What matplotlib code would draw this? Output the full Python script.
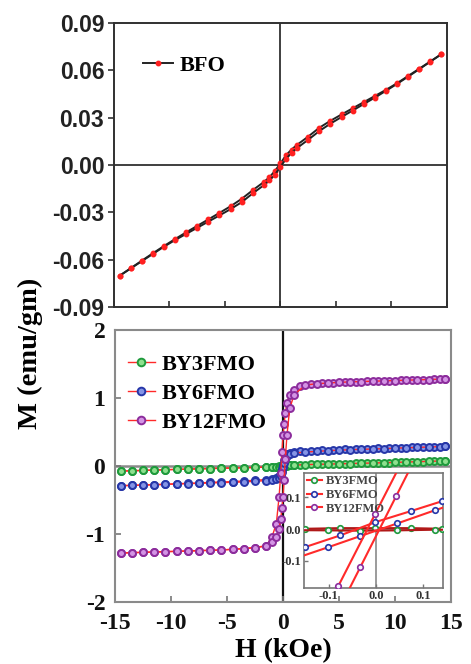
import matplotlib
matplotlib.use('Agg')
import matplotlib.pyplot as plt
from matplotlib.lines import Line2D

# ---- BFO (top panel) ----
H_bfo_down = [14.5, 13.5, 12.5, 11.5, 10.5, 9.5, 8.5, 7.5, 6.5, 5.5, 4.5, 3.5, 2.5, 1.5, 1.0, 0.5, 0.0,
              -0.5, -1.0, -1.5, -2.5, -3.5, -4.5, -5.5, -6.5, -7.5, -8.5, -9.5, -10.5, -11.5, -12.5, -13.5, -14.5]
M_bfo_down = [0.0702, 0.0656, 0.0610, 0.0564, 0.0518, 0.0476, 0.0437, 0.0398, 0.0359, 0.0320, 0.0280, 0.0236,
              0.0180, 0.0128, 0.0098, 0.0062, 0.0010, -0.0038, -0.0078, -0.0108, -0.0160, -0.0215, -0.0262,
              -0.0304, -0.0345, -0.0386, -0.0427, -0.0470, -0.0514, -0.0560, -0.0607, -0.0655, -0.0703]
H_bfo_up = [-14.5, -13.5, -12.5, -11.5, -10.5, -9.5, -8.5, -7.5, -6.5, -5.5, -4.5, -3.5, -2.5, -1.5, -1.0, -0.5, 0.0,
            0.5, 1.0, 1.5, 2.5, 3.5, 4.5, 5.5, 6.5, 7.5, 8.5, 9.5, 10.5, 11.5, 12.5, 13.5, 14.5]
M_bfo_up = [-0.0702, -0.0656, -0.0610, -0.0564, -0.0518, -0.0476, -0.0437, -0.0398, -0.0359, -0.0320, -0.0280,
            -0.0236, -0.0180, -0.0128, -0.0098, -0.0062, -0.0010, 0.0038, 0.0078, 0.0108, 0.0160, 0.0215, 0.0262,
            0.0304, 0.0345, 0.0386, 0.0427, 0.0470, 0.0514, 0.0560, 0.0607, 0.0655, 0.0703]

# ---- doped samples (bottom panel) ----
H_down = [14.5, 13.5, 12.5, 11.5, 10.5, 9.5, 8.5, 7.5, 6.5, 5.5, 4.5, 3.5, 2.5, 1.5,
          1.0, 0.6, 0.35, 0.2, 0.1, 0.0, -0.1, -0.2, -0.35, -0.6, -1.0,
          -1.5, -2.5, -3.5, -4.5, -5.5, -6.5, -7.5, -8.5, -9.5, -10.5, -11.5, -12.5, -13.5, -14.5]
H_up = [-14.5, -13.5, -12.5, -11.5, -10.5, -9.5, -8.5, -7.5, -6.5, -5.5, -4.5, -3.5, -2.5, -1.5,
        -1.0, -0.6, -0.35, -0.2, -0.1, 0.0, 0.1, 0.2, 0.35, 0.6, 1.0,
        2.0, 3.0, 4.0, 5.0, 6.0, 7.0, 8.0, 9.0, 10.0, 11.0, 12.0, 13.0, 14.0, 14.5]

by3_down = [0.075, 0.07, 0.065, 0.06, 0.055, 0.05, 0.046, 0.042, 0.038, 0.034, 0.03, 0.026, 0.022, 0.018,
            0.015, 0.012, 0.009, 0.007, 0.005, 0.002, -0.001, -0.003, -0.006, -0.009, -0.013,
            -0.017, -0.021, -0.025, -0.029, -0.033, -0.037, -0.041, -0.045, -0.05, -0.055, -0.06, -0.065, -0.07, -0.075]
by3_up = [-0.075, -0.07, -0.065, -0.06, -0.055, -0.05, -0.046, -0.042, -0.038, -0.034, -0.03, -0.026, -0.022, -0.018,
          -0.015, -0.012, -0.009, -0.007, -0.005, -0.002, 0.001, 0.003, 0.006, 0.009, 0.013,
          0.02, 0.024, 0.028, 0.032, 0.036, 0.04, 0.044, 0.048, 0.053, 0.058, 0.063, 0.068, 0.073, 0.075]

by6_down = [0.29, 0.285, 0.28, 0.275, 0.27, 0.265, 0.26, 0.255, 0.25, 0.245, 0.24, 0.235, 0.225, 0.215,
            0.205, 0.19, 0.17, 0.14, 0.09, 0.02, -0.05, -0.1, -0.14, -0.17, -0.19,
            -0.2, -0.21, -0.22, -0.23, -0.235, -0.24, -0.25, -0.255, -0.26, -0.27, -0.275, -0.28, -0.285, -0.29]
by6_up = [-0.29, -0.285, -0.28, -0.275, -0.27, -0.265, -0.26, -0.255, -0.25, -0.245, -0.24, -0.235, -0.225, -0.215,
          -0.205, -0.19, -0.17, -0.14, -0.09, -0.02, 0.05, 0.1, 0.14, 0.17, 0.19,
          0.205, 0.215, 0.225, 0.232, 0.24, 0.245, 0.25, 0.255, 0.262, 0.268, 0.273, 0.279, 0.285, 0.29]

by12_down = [1.28, 1.275, 1.27, 1.265, 1.26, 1.255, 1.25, 1.245, 1.24, 1.235, 1.225, 1.215, 1.20, 1.18,
             1.12, 1.05, 0.92, 0.78, 0.62, 0.45, 0.2, -0.1, -0.45, -0.85, -1.05,
             -1.17, -1.2, -1.215, -1.225, -1.235, -1.24, -1.245, -1.25, -1.255, -1.26, -1.265, -1.27, -1.275, -1.28]
by12_up = [-1.28, -1.275, -1.27, -1.265, -1.26, -1.255, -1.25, -1.245, -1.24, -1.235, -1.225, -1.215, -1.20, -1.18,
           -1.12, -1.05, -0.92, -0.78, -0.62, -0.45, -0.2, 0.1, 0.45, 0.85, 1.05,
           1.19, 1.21, 1.22, 1.23, 1.237, 1.242, 1.247, 1.252, 1.257, 1.262, 1.267, 1.272, 1.277, 1.28]

# ---- inset (low field) ----
Hin_a = [0.3, 0.141, 0.075, -0.001, -0.076, -0.151, -0.3]
Hin_b = [-0.3, -0.101, -0.033, 0.046, 0.125, 0.3]
by3_in_a = [0.001, 0.001, 0.003, 0.003, 0.003, 0.001, 0.001]
by3_in_b = [-0.002, -0.004, -0.005, -0.004, -0.002, -0.002]
by6_in_a = [0.167, 0.088, 0.057, 0.022, -0.02, -0.057, -0.131]
by6_in_b = [-0.157, -0.057, -0.022, 0.018, 0.059, 0.143]
Hin12_a = [0.3, -0.001, -0.08, -0.3]
by12_in_a = [0.92, 0.049, -0.18, -0.82]
Hin12_b = [-0.3, -0.033, 0.044, 0.3]
by12_in_b = [-0.902, -0.12, 0.106, 0.856]

samples = ['BY3FMO', 'BY6FMO', 'BY12FMO']
edge_cols = ['#1f9a3c', '#2636a8', '#8c2c9c']
face_cols = ['#8ee08e', '#8494e6', '#d394e4']

top_yticks = [0.09, 0.06, 0.03, 0.0, -0.03, -0.06, -0.09]
top_ylabels = ['0.09', '0.06', '0.03', '0.00', '-0.03', '-0.06', '-0.09']
x_ticks = [-15, -10, -5, 0, 5, 10, 15]
x_labels = ['-15', '-10', '-5', '0', '5', '10', '15']
bot_yticks = [-2, -1, 0, 1, 2]
bot_ylabels = ['-2', '-1', '0', '1', '2']
in_ticks = [-0.1, 0.0, 0.1]
in_labels = ['-0.1', '0.0', '0.1']

serif = 'Liberation Serif'
sans = 'Liberation Sans'
red = '#ff2a2a'

fig = plt.figure(figsize=(4.71, 6.64), dpi=100)

# top panel
ax1 = fig.add_axes([0.242, 0.5377, 0.707, 0.4277])
ax1.axhline(0, color='#303030', lw=1.3, zorder=1)
ax1.axvline(0, color='#303030', lw=1.3, zorder=1)
ax1.plot(H_bfo_down, M_bfo_down, '-', color='#222222', lw=1.4, marker='o', ms=3.2, mfc='#ff2020', mec='#ff2020', zorder=3)
ax1.plot(H_bfo_up, M_bfo_up, '-', color='#222222', lw=1.4, marker='o', ms=3.2, mfc='#ff2020', mec='#ff2020', zorder=3)
ax1.set_xlim(-15, 15)
ax1.set_ylim(-0.09, 0.09)
ax1.set_xticks(x_ticks)
ax1.set_xticklabels([])
ax1.set_yticks(top_yticks)
ax1.set_yticklabels(top_ylabels, fontfamily=sans, fontweight='bold', fontsize=16.5)
ax1.tick_params(axis='y', direction='out', length=4, width=1.2, pad=3, colors='#303030', labelcolor='#222222')
ax1.tick_params(axis='x', direction='in', length=4, width=1.2, colors='#303030')
for s in ax1.spines.values():
    s.set_color('#303030')
    s.set_linewidth(1.4)
h_bfo = Line2D([], [], color='#222222', lw=1.4, marker='o', ms=3.2, mfc='#ff2020', mec='#ff2020')
ax1.legend([h_bfo], ['BFO'], loc='center left', bbox_to_anchor=(0.087, 0.849), frameon=False,
           borderaxespad=0, borderpad=0, handlelength=1.35, handletextpad=0.3,
           prop={'family': serif, 'weight': 'bold', 'size': 16})

# bottom panel
ax2 = fig.add_axes([0.2442, 0.0934, 0.7134, 0.4096])
ax2.axhline(0, color='#8a8a8a', lw=1.8, zorder=1)
ax2.axvline(0, color='#111111', lw=1.6, zorder=1)
curves = [(by3_down, by3_up), (by6_down, by6_up), (by12_down, by12_up)]
handles = []
for (d, u), ec, fc in zip(curves, edge_cols, face_cols):
    for hh, mm in ((H_down, d), (H_up, u)):
        ax2.plot(hh, mm, '-', color=red, lw=1.0, marker='o', ms=5, mfc=fc, mec=ec, mew=1.4, zorder=3)
    handles.append(Line2D([], [], color=red, lw=1.0, marker='o', ms=5.5, mfc=fc, mec=ec, mew=1.4))
ax2.set_xlim(-15, 15)
ax2.set_ylim(-2, 2)
ax2.set_xticks(x_ticks)
ax2.set_xticklabels(x_labels, fontfamily=serif, fontweight='bold', fontsize=17)
ax2.set_yticks(bot_yticks)
ax2.set_yticklabels(bot_ylabels, fontfamily=serif, fontweight='bold', fontsize=17)
ax2.tick_params(direction='in', length=4, width=1.2, colors='#777777', labelcolor='#111111')
ax2.tick_params(axis='y', pad=7)
ax2.tick_params(axis='x', pad=8)
for s in ax2.spines.values():
    s.set_color('#8a8a8a')
    s.set_linewidth(1.5)
ax2.legend(handles, samples, loc='center left', bbox_to_anchor=(0.039, 0.766), frameon=False,
           borderaxespad=0, borderpad=0, handlelength=1.2, handletextpad=0.3, labelspacing=0.38,
           prop={'family': serif, 'weight': 'bold', 'size': 16})
ax2.set_xlabel('H (kOe)', fontfamily=serif, fontweight='bold', fontsize=20, labelpad=3)

fig.text(0.064, 0.468, 'M (emu/gm)', rotation=90, ha='center', va='center',
         fontfamily=serif, fontweight='bold', fontsize=20.5)

# inset
ax3 = fig.add_axes([0.6454, 0.1149, 0.2951, 0.1732])
ax3.axhline(0, color='#8a8a8a', lw=1.2, zorder=1)
ax3.axvline(0, color='#8a8a8a', lw=1.2, zorder=1)
in_sets = [((Hin_a, by3_in_a), (Hin_b, by3_in_b)),
           ((Hin_a, by6_in_a), (Hin_b, by6_in_b)),
           ((Hin12_a, by12_in_a), (Hin12_b, by12_in_b))]
line_cols = ['#b01818', red, red]
in_handles = []
for branches, ec, lc in zip(in_sets, edge_cols, line_cols):
    for hh, mm in branches:
        ax3.plot(hh, mm, '-', color=lc, lw=1.5, marker='o', ms=4, mfc='#f4f4ff', mec=ec, mew=1.2, zorder=3)
    in_handles.append(Line2D([], [], color=red, lw=1.5, marker='o', ms=4, mfc='#f4f4ff', mec=ec, mew=1.2))
ax3.set_xlim(-0.153, 0.143)
ax3.set_ylim(-0.185, 0.178)
ax3.set_xticks(in_ticks)
ax3.set_xticklabels(in_labels, fontfamily=serif, fontweight='bold', fontsize=9)
ax3.set_yticks(in_ticks)
ax3.set_yticklabels(in_labels, fontfamily=serif, fontweight='bold', fontsize=9)
ax3.tick_params(direction='in', length=3, width=1, colors='#777777', labelcolor='#333333', pad=2)
for s in ax3.spines.values():
    s.set_color('#777777')
    s.set_linewidth(1.2)
ax3.legend(in_handles, samples, loc='upper left', bbox_to_anchor=(0.02, 0.98), frameon=False,
           borderaxespad=0, borderpad=0, handlelength=1.2, handletextpad=0.3, labelspacing=0.15,
           prop={'family': serif, 'weight': 'bold', 'size': 9})
for t in ax3.get_legend().get_texts():
    t.set_color('#444444')

fig.savefig('out.png', dpi=100)
